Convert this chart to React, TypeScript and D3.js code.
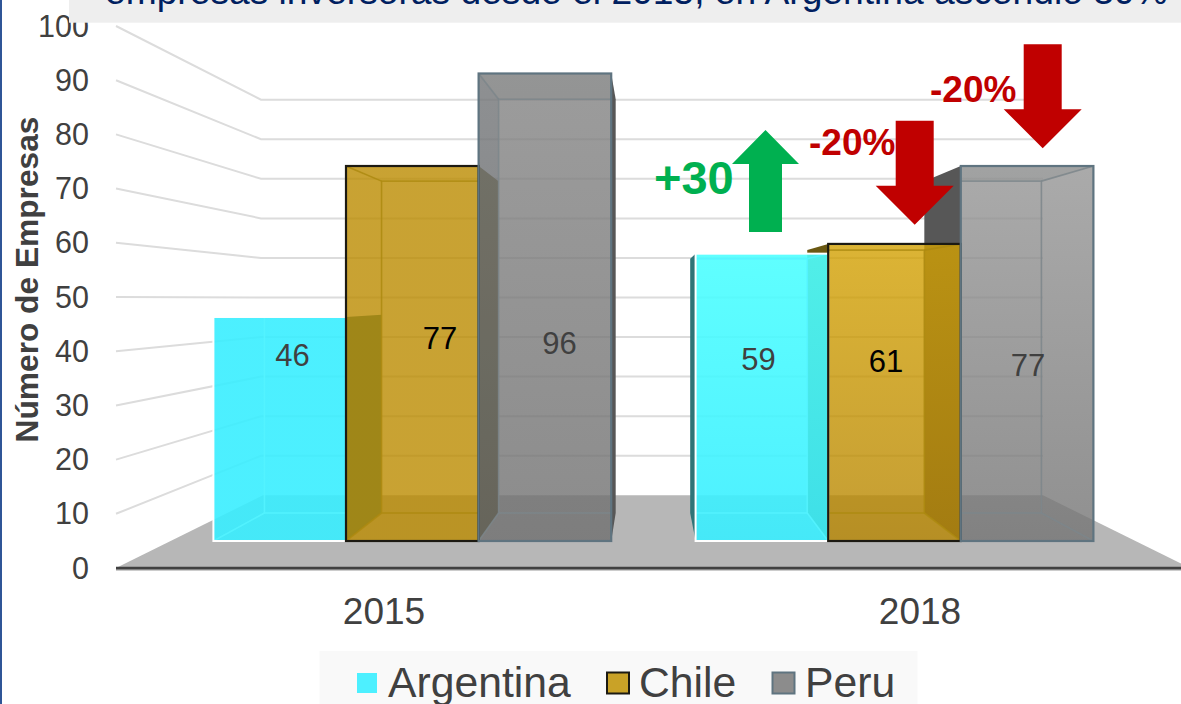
import React from "react";
import * as d3 from "d3";

const categories = ["2015", "2018"];
const seriesNames = ["Argentina", "Chile", "Peru"];
const argentina = [46, 59];
const chile = [77, 61];
const peru = [96, 77];
const seriesValues = [argentina, chile, peru];
const titleText = "empresas inversoras desde el 2015, en Argentina ascendió 30%";
const axisTitle = "Número de Empresas";

const W = 1181, H = 704;
const FONT = "'Liberation Sans', Arial, sans-serif";

// scales
const yWallFront = d3.scaleLinear().domain([0, 100]).range([568, 26]);
const yWallBack = d3.scaleLinear().domain([0, 100]).range([495.3, 99.7]);
const yBarFront = d3.scaleLinear().domain([0, 100]).range([541, 54]);
const yBarBack = d3.scaleLinear().domain([0, 100]).range([513, 82]);
const xGroup = d3.scaleBand().domain(categories).range([213.4, 1093.4]).paddingInner(0.175).paddingOuter(0);
const xSeries = d3.scaleBand().domain(seriesNames).range([0, xGroup.bandwidth()]);
const xBack = d3.scaleLinear().domain([214, 611]).range([265, 615.5]);
const xAxisBand = d3.scaleBand().domain(categories).range([116, 1188]);
const ticks = yWallFront.ticks(10);

const line = d3.line<[number, number]>();
const closed = (pts: [number, number][]) => line(pts) + "Z";

type Style = { stroke: string; inner: string; outer: string; opacity: number; sideShade: number; topShade: number; strokeW: number };
const styles: Record<string, Style> = {
  Argentina: { stroke: "#ffffff", inner: "#55f3ff", outer: "#2f7478", opacity: 0.9, sideShade: 0, topShade: 0, strokeW: 2 },
  Chile: { stroke: "#1c1a12", inner: "#ad8a10", outer: "#6a5812", opacity: 0.8, sideShade: 0, topShade: 0, strokeW: 2.2 },
  Peru: { stroke: "#5f7480", inner: "#7c868b", outer: "#575757", opacity: 0.8, sideShade: 0.14, topShade: 0.08, strokeW: 2.2 },
};
const gradients: Record<string, [string, string]> = {
  "Argentina-2015": ["#39eeff", "#39eeff"],
  "Argentina-2018": ["#4effff", "#39eeff"],
  "Chile-2015": ["#bb8b00", "#bb8b00"],
  "Chile-2018": ["#d3a102", "#b68500"],
  "Peru-2015": ["#838383", "#6f6f6f"],
  "Peru-2018": ["#959595", "#747474"],
};
const legendSwatchFill: Record<string, string> = { Argentina: "#4df0ff", Chile: "#c9a227", Peru: "#8c8c8c" };

// order of painting per group: nearer neighbours overlap as in the reference
const paintOrder: Record<string, string[]> = {
  "2015": ["Argentina", "Chile", "Peru"],
  "2018": ["Peru", "Chile", "Argentina"],
};
const strokeOrder = ["Argentina", "Chile", "Peru"];

const dataLabels: { text: string; x: number; y: number; fill: string }[] = [
  { text: String(argentina[0]), x: 292.4, y: 366, fill: "#404040" },
  { text: String(chile[0]), x: 440, y: 349, fill: "#000000" },
  { text: String(peru[0]), x: 559.5, y: 354, fill: "#404040" },
  { text: String(argentina[1]), x: 758.5, y: 370, fill: "#404040" },
  { text: String(chile[1]), x: 886, y: 372, fill: "#000000" },
  { text: String(peru[1]), x: 1028, y: 376, fill: "#404040" },
];

function geom(cat: string, name: string, v: number) {
  const x0 = xGroup(cat)! + xSeries(name)!;
  const x1 = x0 + xSeries.bandwidth();
  const bx0 = xBack(x0), bx1 = xBack(x1);
  const ft = yBarFront(v), fb = yBarFront(0), bt = yBarBack(v), bb = yBarBack(0);
  return { x0, x1, bx0, bx1, ft, fb, bt, bb };
}

function Box({ cat, name, v }: { cat: string; name: string; v: number }) {
  const g = geom(cat, name, v);
  const s = styles[name];
  const { x0, x1, bx0, bx1, ft, fb, bt, bb } = g;
  const left: [number, number][] = [[x0, ft], [bx0, bt], [bx0, bb], [x0, fb]];
  const right: [number, number][] = [[x1, ft], [bx1, bt], [bx1, bb], [x1, fb]];
  const top: [number, number][] = [[x0, ft], [x1, ft], [bx1, bt], [bx0, bt]];
  const leftOuter = bx0 < x0;
  const rightOuter = bx1 > x1;
  const clipId = `clip-${name}-${cat}`;
  return (
    <g>
      {leftOuter && <path d={closed(left)} fill={s.outer} />}
      {rightOuter && <path d={closed(right)} fill={s.outer} />}
      <rect x={x0} y={ft} width={x1 - x0} height={fb - ft} fill={`url(#grad-${name}-${cat})`} fillOpacity={s.opacity} />
      <clipPath id={clipId}><rect x={x0} y={ft} width={x1 - x0} height={fb - ft} /></clipPath>
      <g clipPath={`url(#${clipId})`}>
        {s.sideShade > 0 && !leftOuter && <path d={closed(left)} fill="#3c4a52" fillOpacity={s.sideShade} />}
        {s.topShade > 0 && <path d={closed(top)} fill="#3c4a52" fillOpacity={s.topShade} />}
        <g fill="none" stroke={s.inner} strokeWidth={1.6} strokeOpacity={0.85}>
          <rect x={bx0} y={bt} width={bx1 - bx0} height={bb - bt} />
          <path d={line([[x0, ft], [bx0, bt]])!} />
          <path d={line([[x1, ft], [bx1, bt]])!} />
          <path d={line([[x0, fb], [bx0, bb]])!} />
          <path d={line([[x1, fb], [bx1, bb]])!} />
        </g>
      </g>
    </g>
  );
}

function arrowUp(cx: number, tip: number, headY: number, halfHead: number, halfShaft: number, end: number): [number, number][] {
  return [[cx, tip], [cx + halfHead, headY], [cx + halfShaft, headY], [cx + halfShaft, end], [cx - halfShaft, end], [cx - halfShaft, headY], [cx - halfHead, headY]];
}

export default function App() {
  const boxes = categories.map((cat, ci) => ({ cat, ci }));
  return (
    <svg width={W} height={H} viewBox={`0 0 ${W} ${H}`} style={{ position: "fixed", left: 0, top: 0, background: "#fff", fontFamily: FONT }}>
      <defs>
        {Object.entries(gradients).map(([k, [a, b]]) => (
          <linearGradient key={k} id={`grad-${k}`} x1="0" y1="0" x2="0" y2="1">
            <stop offset="0" stopColor={a} />
            <stop offset="1" stopColor={b} />
          </linearGradient>
        ))}
      </defs>

      {/* floor */}
      <path d={closed([[116, 568], [263, 495.3], [1043, 495.3], [1190, 568]])} fill="#b7b7b7" />

      {/* walls gridlines */}
      {ticks.filter((t) => t > 0).map((t) => (
        <path key={t} d={line([[116, yWallFront(t)], [261, yWallBack(t)], [1043, yWallBack(t)]])!} fill="none" stroke="#dcdcdc" strokeWidth={2} />
      ))}

      {/* tick labels */}
      {ticks.map((t) => (
        <text key={t} x={89} y={yWallFront(t) + 10.5} textAnchor="end" fontSize={30.5} fill="#404040">{t}</text>
      ))}

      {/* axis title */}
      <text transform="translate(38,279.5) rotate(-90)" textAnchor="middle" fontSize={31.7} fontWeight="bold" fill="#404040">{axisTitle}</text>

      {/* bars */}
      {boxes.map(({ cat, ci }) => (
        <g key={cat}>
          {paintOrder[cat].map((name) => (
            <Box key={name} cat={cat} name={name} v={seriesValues[seriesNames.indexOf(name)][ci]} />
          ))}
          {strokeOrder.map((name) => {
            const g = geom(cat, name, seriesValues[seriesNames.indexOf(name)][ci]);
            const s = styles[name];
            return <rect key={name} x={g.x0} y={g.ft} width={g.x1 - g.x0} height={g.fb - g.ft} fill="none" stroke={s.stroke} strokeWidth={s.strokeW} />;
          })}
        </g>
      ))}

      {/* x axis line */}
      <line x1={116} x2={W} y1={569} y2={569} stroke="#9a9a9a" strokeWidth={3} />
      <line x1={116} x2={W} y1={568} y2={568} stroke="#404040" strokeWidth={2.5} />

      {/* x labels */}
      {categories.map((c) => (
        <text key={c} x={xAxisBand(c)! + xAxisBand.bandwidth() / 2} y={624} textAnchor="middle" fontSize={37} fill="#404040">{c}</text>
      ))}

      {/* data labels */}
      {dataLabels.map((d) => (
        <text key={d.x} x={d.x} y={d.y} textAnchor="middle" fontSize={31} fill={d.fill}>{d.text}</text>
      ))}

      {/* annotations */}
      <path d={closed(arrowUp(765.5, 130, 164, 33.5, 16.5, 232))} fill="#00b050" />
      <text x={654} y={193.5} fontSize={47} fontWeight="bold" fill="#00b050">+30</text>
      <path d={closed(arrowUp(914.7, 224.7, 185.7, 39, 19, 120.7))} fill="#c00000" />
      <text x={809} y={155} fontSize={37} fontWeight="bold" fill="#c00000">-20%</text>
      <path d={closed(arrowUp(1042.7, 148.3, 109.3, 39, 19, 44.3))} fill="#c00000" />
      <text x={930} y={101.7} fontSize={37} fontWeight="bold" fill="#c00000">-20%</text>

      {/* title band */}
      <rect x={69} y={0} width={W - 69} height={22.7} fill="#eeeeee" />
      <text x={105} y={3.5} fontSize={37.2} fill="#002060">{titleText}</text>

      {/* legend */}
      <rect x={319.5} y={651} width={598} height={53} fill="#f9f9f9" />
      <rect x={357} y={673} width={20} height={20} fill={legendSwatchFill.Argentina} />
      <text x={388} y={696.5} fontSize={42.7} fill="#404040">{seriesNames[0]}</text>
      <rect x={607} y={672.5} width={22} height={21} fill={legendSwatchFill.Chile} stroke={styles.Chile.stroke} strokeWidth={2} />
      <text x={639} y={696.5} fontSize={42.7} fill="#404040">{seriesNames[1]}</text>
      <rect x={772.5} y={672.5} width={22} height={21} fill={legendSwatchFill.Peru} stroke={styles.Peru.stroke} strokeWidth={2} />
      <text x={805} y={696.5} fontSize={42.7} fill="#404040">{seriesNames[2]}</text>

      {/* slide border */}
      <rect x={0} y={0} width={2} height={H} fill="#2f5597" />
    </svg>
  );
}
